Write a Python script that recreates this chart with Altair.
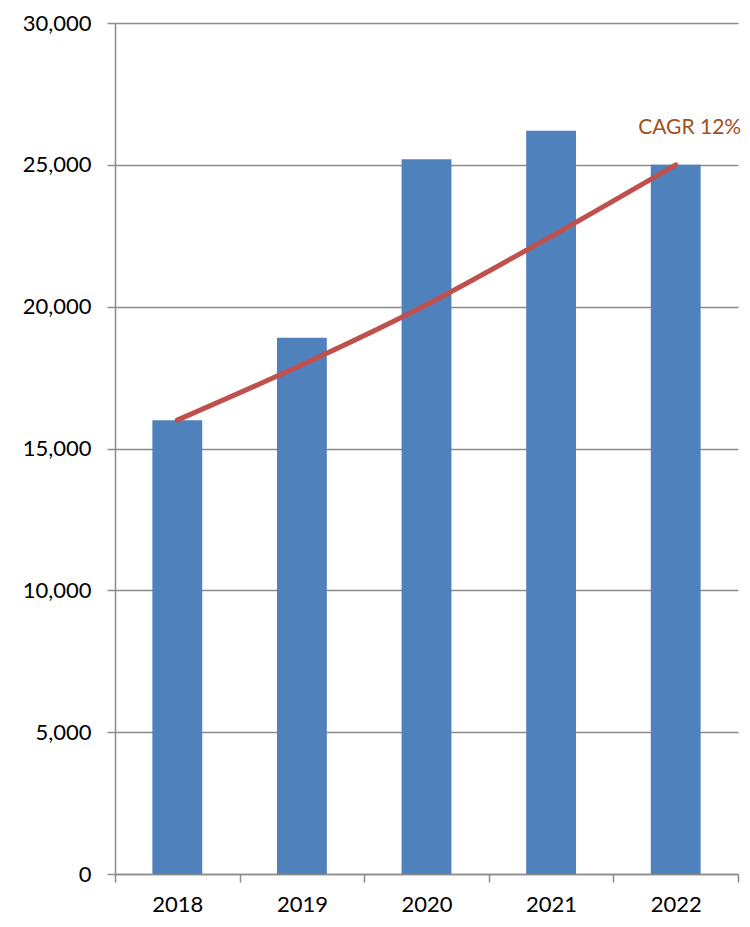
import altair as alt
import pandas as pd

years = ["2018", "2019", "2020", "2021", "2022"]
revenue = [16000, 18900, 25200, 26200, 25000]
cagr_line = [16000, 17950, 20070, 22480, 25000]
label_text = ["CAGR 12%"]
label_year = ["2022"]
label_value = [26300]

df = pd.DataFrame({"year": years, "revenue": revenue, "cagr": cagr_line})
lab = pd.DataFrame({"year": label_year, "v": label_value, "t": label_text})

FONT = "Lato"
GRAY = "#8c8c8c"

x_scale = alt.Scale(paddingInner=0, paddingOuter=0)
x = alt.X("year:N", sort=years, scale=x_scale,
          axis=alt.Axis(title=None, labelAngle=0, labelFontSize=22, labelFont=FONT,
                        labelColor="#000000", labelPadding=12, tickBand="extent",
                        tickSize=8, tickColor=GRAY, tickWidth=1.5,
                        domainColor=GRAY, domainWidth=1.5, grid=False))

y_scale = alt.Scale(domain=[0, 30000], nice=False)

bars = alt.Chart(df).mark_bar(color="#4F81BD", width=alt.RelativeBandSize(0.4)).encode(
    x=x,
    y=alt.Y("revenue:Q", scale=y_scale,
            axis=alt.Axis(title=None, values=[0, 5000, 10000, 15000, 20000, 25000, 30000],
                          format=",d", labelFontSize=22, labelFont=FONT, labelColor="#000000",
                          labelPadding=16, tickSize=8, tickColor=GRAY, tickWidth=1.5,
                          domainColor=GRAY, domainWidth=1.5,
                          grid=True, gridColor=GRAY, gridWidth=1.5))
)

line = alt.Chart(df).mark_line(color="#C0504D", strokeWidth=5, interpolate="monotone",
                               strokeCap="round").encode(
    x=alt.X("year:N", sort=years, scale=x_scale),
    y=alt.Y("cagr:Q", scale=y_scale)
)

text = alt.Chart(lab).mark_text(font=FONT, fontSize=21, color="#A0501A", dx=14,
                                align="center", baseline="middle").encode(
    x=alt.X("year:N", sort=years, scale=x_scale),
    y=alt.Y("v:Q", scale=y_scale),
    text="t:N"
)

chart = (bars + line + text).properties(
    width=623, height=851,
    autosize=alt.AutoSizeParams(type="none"),
    padding={"left": 107, "top": 15, "right": 4, "bottom": 45},
).configure_view(stroke=None)

chart.save("out.html", embed_options={"renderer": "svg", "actions": False})
